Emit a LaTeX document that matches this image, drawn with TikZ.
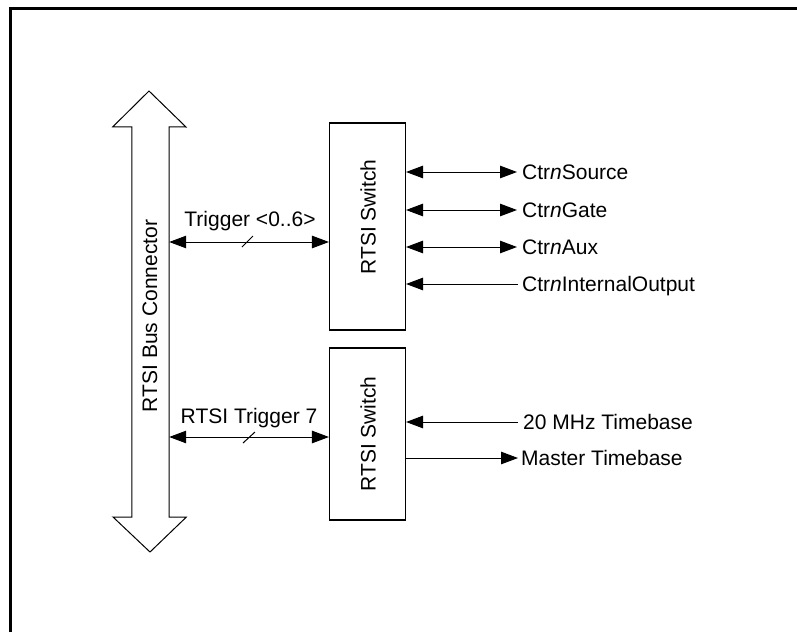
\documentclass[tikz,border=0pt]{standalone}
\usepackage{fontspec}
\setmainfont{Liberation Sans}
\usetikzlibrary{arrows.meta}
\begin{document}
\begin{tikzpicture}[x=1pt,y=-1pt,
  font=\fontsize{21}{25}\selectfont,
  tip/.tip={Triangle[length=17pt,width=12.5pt]},
  sig/.style={line width=1pt},
  box/.style={draw, line width=1.1pt, minimum width=76pt, inner sep=0pt},
  lbl/.style={anchor=base west, inner sep=0pt},
  vlbl/.style={rotate=90, inner sep=0pt},
  slash/.style={line width=1pt}]
\useasboundingbox (0,0) rectangle (797,632);
% frame
\draw[line width=3pt] (10,632) -- (10,8) -- (797,8);
% bus connector (shaft)
\node[minimum width=37pt, minimum height=390pt, inner sep=0pt] (bus) at (150.5,322) {};
\draw[line width=1pt, line join=miter]
  (bus.north west) -- ++(-19,0) -- (149,91) -- ++(37,36) -- (bus.north east)
  -- (bus.south east) -- ++(17,0) -- (150,552) -- ++(-37,-35) -- (bus.south west) -- cycle;
\node[vlbl] (busl) at (150,316) {RTSI Bus Connector};
% switches
\node[box, minimum height=207pt] (sw1) at (367.5,226.5) {};
\node[vlbl] (sw1l) at (368,217) {RTSI Switch};
\node[box, minimum height=172pt] (sw2) at (367.5,434) {};
\node[vlbl] (sw2l) at (368,434) {RTSI Switch};
% triggers
\coordinate (bt1) at (bus.east |- 0,242);
\coordinate (st1) at (sw1.west |- 0,242);
\draw[sig, tip-tip] (bt1) -- (st1);
\node[inner sep=0pt] (t1l) at (250,221) {Trigger <0..6>};
\draw[slash] (242,247) -- (253,236);
\coordinate (bt2) at (bus.east |- 0,437);
\coordinate (st2) at (sw2.west |- 0,437);
\draw[sig, tip-tip] (bt2) -- (st2);
\node[inner sep=0pt] (t2l) at (249,418) {RTSI Trigger 7};
\draw[slash] (243,443) -- (255,432);
% counter signals
\node[lbl] (src) at (522,179.5) {Ctr\textit{n}Source};
\node[lbl] (gate) at (522,217.5) {Ctr\textit{n}Gate};
\node[lbl] (aux) at (522,254.5) {Ctr\textit{n}Aux};
\node[lbl] (io) at (522,291.5) {Ctr\textit{n}InternalOutput};
\draw[sig, tip-tip] (sw1.east |- 0,172) -- (517,172);
\draw[sig, tip-tip] (sw1.east |- 0,210) -- (517,210);
\draw[sig, tip-tip] (sw1.east |- 0,247) -- (517,247);
\draw[sig, tip-] (sw1.east |- 0,284) -- (518,284);
% timebases
\node[lbl] (tb20) at (523,429.5) {20 MHz Timebase};
\node[lbl] (mtb) at (521,465.5) {Master Timebase};
\draw[sig, tip-] (sw2.east |- 0,422) -- (518,422);
\draw[sig, -tip] (sw2.east |- 0,458) -- (518,458);
\end{tikzpicture}
\end{document}
